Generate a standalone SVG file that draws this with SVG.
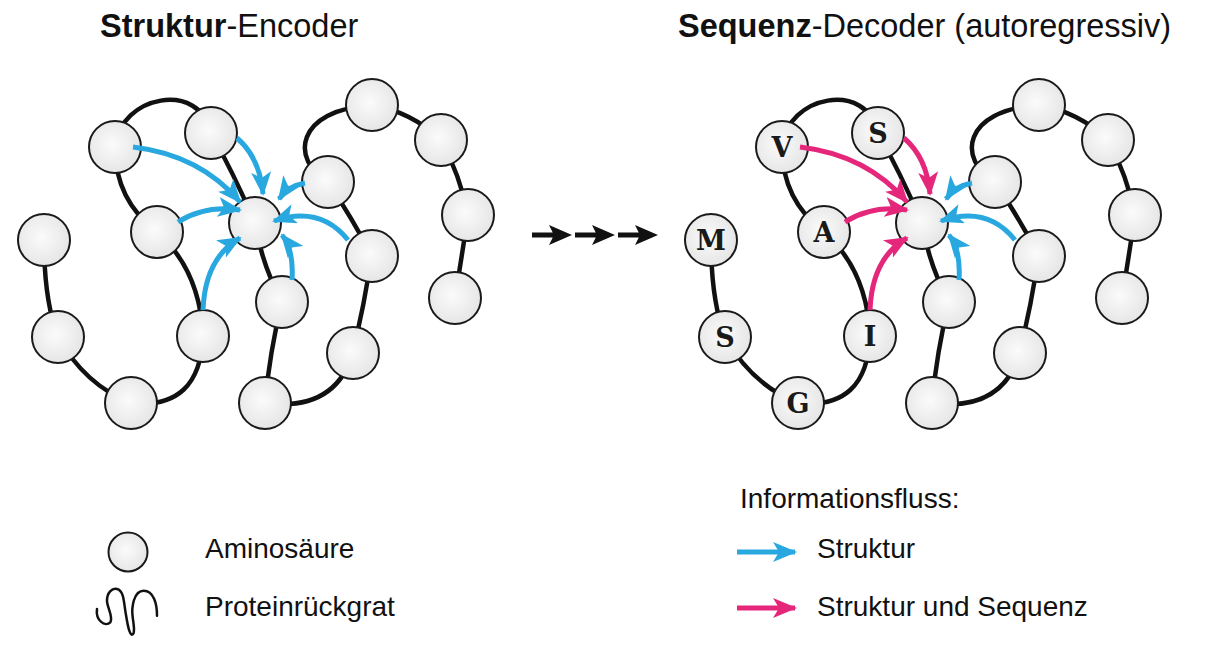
<svg xmlns="http://www.w3.org/2000/svg" width="1205" height="655" viewBox="0 0 1205 655">
<style>
.bb{fill:none;stroke:#111;stroke-width:4.5;stroke-linecap:round}
.aa{fill:url(#g);stroke:#1a1a1a;stroke-width:2}
.ttl{font-family:"Liberation Sans",Arial,sans-serif;font-size:32.5px;fill:#111}
.lg{font-family:"Liberation Sans",Arial,sans-serif;font-size:28px;fill:#111}
.let{font-family:"DejaVu Serif","Liberation Serif",serif;font-size:27px;font-weight:bold;fill:#1a1a1a;text-anchor:middle}
.blue{fill:none;stroke:#29a8e0;stroke-width:5}
.pink{fill:none;stroke:#e5277b;stroke-width:5}
</style>
<defs>
<radialGradient id="g" cx="0.45" cy="0.45" r="0.6">
<stop offset="0" stop-color="#fbfbfb"/>
<stop offset="1" stop-color="#e4e4e4"/>
</radialGradient>
<marker id="mb" viewBox="0 0 24 20" refX="22" refY="10" markerWidth="24" markerHeight="20" markerUnits="userSpaceOnUse" orient="auto">
<path d="M0,0 L24,10 L0,20 L6,10 Z" fill="#29a8e0"/>
</marker>
<marker id="mp" viewBox="0 0 24 20" refX="22" refY="10" markerWidth="24" markerHeight="20" markerUnits="userSpaceOnUse" orient="auto">
<path d="M0,0 L24,10 L0,20 L6,10 Z" fill="#e5277b"/>
</marker>
<path id="backbone" class="bb" d="M44,240 Q44,300 58,337 Q85,385 131,403 Q200,410 203,336 Q200,270 157,232 Q115,200 115,147 C120,95 200,80 211,133 Q233,172 255,223 Q262,265 282,302 Q270,350 265,403 Q335,412 353,353 Q364,305 372,256 Q352,218 328,182 C290,160 295,110 372,105 Q412,112 441,140 Q460,175 468,215 Q462,255 455,298"/>
</defs>

<text class="ttl" x="100" y="37"><tspan font-weight="bold">Struktur</tspan>-Encoder</text>
<text class="ttl" x="678" y="37"><tspan font-weight="bold">Sequenz</tspan>-Decoder (autoregressiv)</text>

<g id="backbones">
<use href="#backbone"/>
<use href="#backbone" transform="translate(667,0)"/>
</g>

<g id="encoder-nodes">
<g id="e1"><circle class="aa" cx="44" cy="240" r="26"/></g>
<g id="e2"><circle class="aa" cx="58" cy="337" r="26"/></g>
<g id="e3"><circle class="aa" cx="131" cy="403" r="26"/></g>
<g id="e4"><circle class="aa" cx="203" cy="336" r="26"/></g>
<g id="e5"><circle class="aa" cx="157" cy="232" r="26"/></g>
<g id="e6"><circle class="aa" cx="115" cy="147" r="26"/></g>
<g id="e7"><circle class="aa" cx="211" cy="133" r="26"/></g>
<g id="e8"><circle class="aa" cx="255" cy="223" r="26"/></g>
<g id="e9"><circle class="aa" cx="282" cy="302" r="26"/></g>
<g id="e10"><circle class="aa" cx="265" cy="403" r="26"/></g>
<g id="e11"><circle class="aa" cx="353" cy="353" r="26"/></g>
<g id="e12"><circle class="aa" cx="372" cy="256" r="26"/></g>
<g id="e13"><circle class="aa" cx="328" cy="182" r="26"/></g>
<g id="e14"><circle class="aa" cx="372" cy="105" r="26"/></g>
<g id="e15"><circle class="aa" cx="441" cy="140" r="26"/></g>
<g id="e16"><circle class="aa" cx="468" cy="215" r="26"/></g>
<g id="e17"><circle class="aa" cx="455" cy="298" r="26"/></g>
</g>

<g id="decoder-nodes" transform="translate(667,0)">
<g id="d1"><circle class="aa" cx="44" cy="240" r="26"/><text class="let" x="44" y="250">M</text></g>
<g id="d2"><circle class="aa" cx="58" cy="337" r="26"/><text class="let" x="58" y="347">S</text></g>
<g id="d3"><circle class="aa" cx="131" cy="403" r="26"/><text class="let" x="131" y="413">G</text></g>
<g id="d4"><circle class="aa" cx="203" cy="336" r="26"/><text class="let" x="203" y="346">I</text></g>
<g id="d5"><circle class="aa" cx="157" cy="232" r="26"/><text class="let" x="157" y="242">A</text></g>
<g id="d6"><circle class="aa" cx="115" cy="147" r="26"/><text class="let" x="115" y="157">V</text></g>
<g id="d7"><circle class="aa" cx="211" cy="133" r="26"/><text class="let" x="211" y="143">S</text></g>
<g id="d8"><circle class="aa" cx="255" cy="223" r="26"/></g>
<g id="d9"><circle class="aa" cx="282" cy="302" r="26"/></g>
<g id="d10"><circle class="aa" cx="265" cy="403" r="26"/></g>
<g id="d11"><circle class="aa" cx="353" cy="353" r="26"/></g>
<g id="d12"><circle class="aa" cx="372" cy="256" r="26"/></g>
<g id="d13"><circle class="aa" cx="328" cy="182" r="26"/></g>
<g id="d14"><circle class="aa" cx="372" cy="105" r="26"/></g>
<g id="d15"><circle class="aa" cx="441" cy="140" r="26"/></g>
<g id="d16"><circle class="aa" cx="468" cy="215" r="26"/></g>
<g id="d17"><circle class="aa" cx="455" cy="298" r="26"/></g>
</g>

<g id="connectors">
<g id="encoder-flow">
<path class="blue" marker-end="url(#mb)" d="M133,147 Q200,155 240,202"/>
<path class="blue" marker-end="url(#mb)" d="M237,138 Q260,158 263,194"/>
<path class="blue" marker-end="url(#mb)" d="M305,183 Q288,186 279,199"/>
<path class="blue" marker-end="url(#mb)" d="M178,222 Q205,205 240,210"/>
<path class="blue" marker-end="url(#mb)" d="M348,240 Q320,205 274,221"/>
<path class="blue" marker-end="url(#mb)" d="M203,310 Q205,258 240,238"/>
<path class="blue" marker-end="url(#mb)" d="M292,280 Q294,250 282,235"/>
</g>
<g id="decoder-flow" transform="translate(667,0)">
<path class="pink" marker-end="url(#mp)" d="M133,147 Q200,155 240,202"/>
<path class="pink" marker-end="url(#mp)" d="M237,138 Q260,158 263,194"/>
<path class="blue" marker-end="url(#mb)" d="M305,183 Q288,186 279,199"/>
<path class="pink" marker-end="url(#mp)" d="M178,222 Q205,205 240,210"/>
<path class="blue" marker-end="url(#mb)" d="M348,240 Q320,205 274,221"/>
<path class="pink" marker-end="url(#mp)" d="M203,310 Q205,258 240,238"/>
<path class="blue" marker-end="url(#mb)" d="M292,280 Q294,250 282,235"/>
</g>
<g id="step-arrows" fill="#111">
<path d="M532,232.5 H556 V237.5 H532 Z M549,225 L572,235 L549,245 L554,235 Z"/>
<path d="M575,232.5 H599 V237.5 H575 Z M592,225 L615,235 L592,245 L597,235 Z"/>
<path d="M618,232.5 H642 V237.5 H618 Z M635,225 L658,235 L635,245 L640,235 Z"/>
</g>
</g>

<g id="legend-left">
<circle class="aa" cx="128" cy="552" r="19.5"/>
<text class="lg" x="205" y="558">Aminosäure</text>
<path fill="none" stroke="#111" stroke-width="2.5" stroke-linecap="round" d="M97,609 C95.3,620.7 105.3,627.3 110.3,622.3 C113.7,617.3 107,607.3 107,600.7 C107,592.3 112,588 117,589 C123.7,590.7 123.7,600.7 125.3,610.7 C127,620.7 128.7,634 132,634.7 C135.3,634.7 133.7,624 132.7,617.3 C131.3,607.3 133.7,590.7 143.7,590.7 C153.7,590.7 157,604 157,615.7"/>
<text class="lg" x="205" y="616">Proteinrückgrat</text>
</g>

<g id="legend-right">
<text class="lg" x="740" y="508">Informationsfluss:</text>
<path class="blue" marker-end="url(#mb)" d="M737,552 H795"/>
<text class="lg" x="817" y="558">Struktur</text>
<path class="pink" marker-end="url(#mp)" d="M737,608 H795"/>
<text class="lg" x="817" y="616">Struktur und Sequenz</text>
</g>
</svg>
